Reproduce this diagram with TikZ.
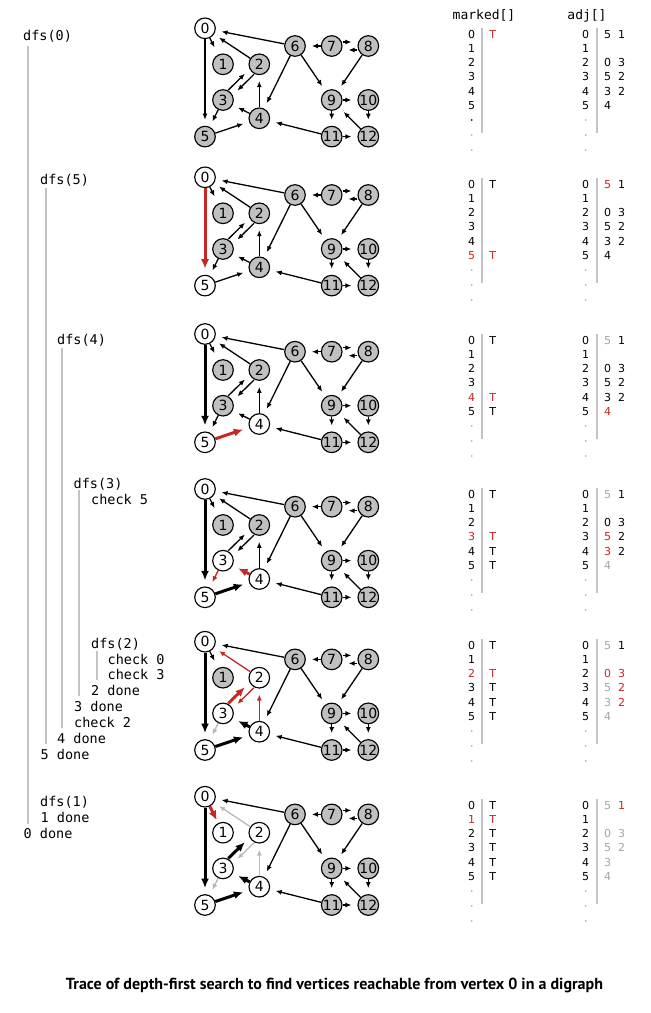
\documentclass[tikz,border=0pt]{standalone}
\usepackage{fontspec}
\setmainfont{DejaVu Sans}
\newfontfamily\trfont{DejaVu Sans Mono}
\newfontfamily\capfont{PT Sans}
\usetikzlibrary{arrows.meta}
\definecolor{dred}{RGB}{198,40,36}
\definecolor{egray}{RGB}{185,185,185}
\definecolor{vgray}{RGB}{192,192,192}
\definecolor{bgray}{RGB}{195,195,195}
\definecolor{tgray}{RGB}{165,165,165}
\tikzset{
  vtx/.style={circle, draw=black, line width=1.15pt, minimum size=20.6pt, inner sep=0pt, fill=vgray, font=\fontsize{14}{14}\selectfont},
  vw/.style={fill=white},
  nedge/.style={draw=black, line width=1.3pt, -{Latex[length=6pt,width=5pt]}, shorten >=6pt},
  treeedge/.style={draw=black, line width=3pt, -{Latex[length=9.5pt,width=8pt]}, shorten >=6pt},
  treered/.style={treeedge, draw=dred},
  thinred/.style={nedge, draw=dred},
  gedge/.style={nedge, draw=egray},
  c0/.style={}, c1/.style={}, c2/.style={}, c3/.style={}, c4/.style={}, c5/.style={}, c6/.style={},
  c7/.style={}, c8/.style={}, c9/.style={}, c10/.style={}, c11/.style={}, c12/.style={},
  e01/.style={nedge, shorten >=8pt}, e05/.style={nedge}, e20/.style={nedge}, e60/.style={nedge},
  e32/.style={nedge}, e23/.style={nedge}, e35/.style={nedge}, e42/.style={nedge}, e43/.style={nedge},
  e54/.style={nedge}, e64/.style={nedge}, e69/.style={nedge}, e76/.style={nedge}, e78/.style={nedge},
  e87/.style={nedge}, e89/.style={nedge}, e910/.style={nedge}, e911/.style={nedge}, e1012/.style={nedge},
  e114/.style={nedge}, e1112/.style={nedge}, e129/.style={nedge},
  trtxt/.style={anchor=west, inner sep=0pt, text height=9.8pt, text depth=0pt, font=\trfont\fontsize{13.5}{14}\selectfont},
  ttitle/.style={inner sep=0pt, text height=9.5pt, text depth=0pt, font=\trfont\fontsize{13}{14}\selectfont},
  trbar/.style={draw=bgray, line width=2pt},
  tnum/.style={inner sep=0pt, text height=8pt, text depth=0pt, font=\fontsize{11}{12}\selectfont},
  tdot/.style={fill=tgray, draw=none, circle, inner sep=0pt, minimum size=1.7pt},
}
\newcommand\digraph[3]{%
\begin{scope}[shift={(0,#2)}, #3]
 \node[vtx,c0] (#1-0) at (205,0) {0};
 \node[vtx,c1] (#1-1) at (223,36) {1};
 \node[vtx,c2] (#1-2) at (259.3,36) {2};
 \node[vtx,c3] (#1-3) at (223,71.7) {3};
 \node[vtx,c4] (#1-4) at (259.3,90) {4};
 \node[vtx,c5] (#1-5) at (205,108.3) {5};
 \node[vtx,c6] (#1-6) at (295,17.7) {6};
 \node[vtx,c7] (#1-7) at (331.7,17.7) {7};
 \node[vtx,c8] (#1-8) at (368.3,17.7) {8};
 \node[vtx,c9] (#1-9) at (331.7,71.7) {9};
 \node[vtx,c10] (#1-10) at (368.3,71.7) {10};
 \node[vtx,c11] (#1-11) at (331.7,108.3) {11};
 \node[vtx,c12] (#1-12) at (368.3,108.3) {12};
 \draw[e01] (#1-0) -- (#1-1);
 \draw[e05] (#1-0) -- (#1-5);
 \draw[e20] (#1-2) -- (#1-0);
 \draw[e60] (#1-6) -- (#1-0);
 \draw[e32,transform canvas={shift={(-2.4pt,2.4pt)}}] (#1-3) -- (#1-2);
 \draw[e23,transform canvas={shift={(2.4pt,-2.4pt)}}] (#1-2) -- (#1-3);
 \draw[e35] (#1-3) -- (#1-5);
 \draw[e42] (#1-4) -- (#1-2);
 \draw[e43] (#1-4) -- (#1-3);
 \draw[e54] (#1-5) -- (#1-4);
 \draw[e64] (#1-6) -- (#1-4);
 \draw[e69] (#1-6) -- (#1-9);
 \draw[e76] (#1-7) -- (#1-6);
 \draw[e78,transform canvas={shift={(0pt,4pt)}}] (#1-7) -- (#1-8);
 \draw[e87,transform canvas={shift={(0pt,-4pt)}}] (#1-8) -- (#1-7);
 \draw[e89] (#1-8) -- (#1-9);
 \draw[e910] (#1-9) -- (#1-10);
 \draw[e911] (#1-9) -- (#1-11);
 \draw[e1012] (#1-10) -- (#1-12);
 \draw[e114] (#1-11) -- (#1-4);
 \draw[e1112] (#1-11) -- (#1-12);
 \draw[e129] (#1-12) -- (#1-9);
\end{scope}}
\newcommand\tbl[3]{%
\begin{scope}[shift={(0,#2)}]
 \draw[trbar] (482.3,-6) -- (482.3,99);
 \draw[trbar] (596.7,-6) -- (596.7,99);
 \foreach \d in {86,101,116}{\node[tdot] (#1-md\d) at (471.7,\d) {}; \node[tdot] (#1-ad\d) at (585.7,\d) {};}
 \begin{scope}[y=-14.3pt]
 \foreach \k in {0,...,5}{%
   \ifnum\k=#3\relax\def\icol{dred}\else\def\icol{black}\fi
   \node[tnum,text=\icol] (#1-m\k) at (471.7,\k) {\k};
   \node[tnum] (#1-a\k) at (585.7,\k) {\k};}
 \end{scope}
\end{scope}}
\newcommand\ent[5]{\node[tnum,text=#4] (#1) at (#2,#3) {#5};}
\def\cT{492.7}
\def\cA{607.7}
\def\cB{621.7}
\begin{document}
\begin{tikzpicture}[x=1pt,y=-1pt]
\fill[white] (0,0) rectangle (651,1013);
\useasboundingbox (0,0) rectangle (651,1013);
% ---------------- graphs
\digraph{g1}{28.3}{c0/.style=vw}
\digraph{g2}{177.3}{c0/.style=vw, c5/.style=vw, e05/.style=treered}
\digraph{g3}{334}{c0/.style=vw, c5/.style=vw, c4/.style=vw, e05/.style=treeedge, e54/.style=treered}
\digraph{g4}{489}{c0/.style=vw, c5/.style=vw, c4/.style=vw, c3/.style=vw, e05/.style=treeedge, e54/.style=treeedge, e43/.style=treered, e35/.style=thinred}
\digraph{g5}{641.7}{c0/.style=vw, c5/.style=vw, c4/.style=vw, c3/.style=vw, c2/.style=vw, e05/.style=treeedge, e54/.style=treeedge, e43/.style=treeedge, e32/.style=treered, e20/.style=thinred, e23/.style=thinred, e42/.style=thinred, e35/.style=gedge}
\digraph{g6}{796.7}{c0/.style=vw, c1/.style=vw, c2/.style=vw, c3/.style=vw, c4/.style=vw, c5/.style=vw, e05/.style=treeedge, e54/.style=treeedge, e43/.style=treeedge, e32/.style=treeedge, e01/.style={treered, shorten >=3pt}, e20/.style=gedge, e23/.style=gedge, e42/.style=gedge, e35/.style=gedge}
% ---------------- table titles
\node[ttitle] (ttl-m) at (484,15) {marked[]};
\node[ttitle] (ttl-a) at (587,15) {adj[]};
% ---------------- tables
\tbl{k1}{34}{-1}
\node[tdot,fill=black] (k1-mdb) at (471.7,120) {};
\begin{scope}[shift={(0,34)},y=-14.3pt]
\ent{k1-t0}{\cT}{0}{dred}{T}
\ent{k1-a0a}{\cA}{0}{black}{5}\ent{k1-a0b}{\cB}{0}{black}{1}
\ent{k1-a2a}{\cA}{2}{black}{0}\ent{k1-a2b}{\cB}{2}{black}{3}
\ent{k1-a3a}{\cA}{3}{black}{5}\ent{k1-a3b}{\cB}{3}{black}{2}
\ent{k1-a4a}{\cA}{4}{black}{3}\ent{k1-a4b}{\cB}{4}{black}{2}
\ent{k1-a5a}{\cA}{5}{black}{4}
\end{scope}
\tbl{k2}{184}{5}
\begin{scope}[shift={(0,184)},y=-14.3pt]
\ent{k2-t0}{\cT}{0}{black}{T}\ent{k2-t5}{\cT}{5}{dred}{T}
\ent{k2-a0a}{\cA}{0}{dred}{5}\ent{k2-a0b}{\cB}{0}{black}{1}
\ent{k2-a2a}{\cA}{2}{black}{0}\ent{k2-a2b}{\cB}{2}{black}{3}
\ent{k2-a3a}{\cA}{3}{black}{5}\ent{k2-a3b}{\cB}{3}{black}{2}
\ent{k2-a4a}{\cA}{4}{black}{3}\ent{k2-a4b}{\cB}{4}{black}{2}
\ent{k2-a5a}{\cA}{5}{black}{4}
\end{scope}
\tbl{k3}{340}{4}
\begin{scope}[shift={(0,340)},y=-14.3pt]
\ent{k3-t0}{\cT}{0}{black}{T}\ent{k3-t4}{\cT}{4}{dred}{T}\ent{k3-t5}{\cT}{5}{black}{T}
\ent{k3-a0a}{\cA}{0}{tgray}{5}\ent{k3-a0b}{\cB}{0}{black}{1}
\ent{k3-a2a}{\cA}{2}{black}{0}\ent{k3-a2b}{\cB}{2}{black}{3}
\ent{k3-a3a}{\cA}{3}{black}{5}\ent{k3-a3b}{\cB}{3}{black}{2}
\ent{k3-a4a}{\cA}{4}{black}{3}\ent{k3-a4b}{\cB}{4}{black}{2}
\ent{k3-a5a}{\cA}{5}{dred}{4}
\end{scope}
\tbl{k4}{494}{3}
\begin{scope}[shift={(0,494)},y=-14.3pt]
\ent{k4-t0}{\cT}{0}{black}{T}\ent{k4-t3}{\cT}{3}{dred}{T}\ent{k4-t4}{\cT}{4}{black}{T}\ent{k4-t5}{\cT}{5}{black}{T}
\ent{k4-a0a}{\cA}{0}{tgray}{5}\ent{k4-a0b}{\cB}{0}{black}{1}
\ent{k4-a2a}{\cA}{2}{black}{0}\ent{k4-a2b}{\cB}{2}{black}{3}
\ent{k4-a3a}{\cA}{3}{dred}{5}\ent{k4-a3b}{\cB}{3}{black}{2}
\ent{k4-a4a}{\cA}{4}{dred}{3}\ent{k4-a4b}{\cB}{4}{black}{2}
\ent{k4-a5a}{\cA}{5}{tgray}{4}
\end{scope}
\tbl{k5}{645}{2}
\begin{scope}[shift={(0,645)},y=-14.3pt]
\ent{k5-t0}{\cT}{0}{black}{T}\ent{k5-t2}{\cT}{2}{dred}{T}\ent{k5-t3}{\cT}{3}{black}{T}\ent{k5-t4}{\cT}{4}{black}{T}\ent{k5-t5}{\cT}{5}{black}{T}
\ent{k5-a0a}{\cA}{0}{tgray}{5}\ent{k5-a0b}{\cB}{0}{black}{1}
\ent{k5-a2a}{\cA}{2}{dred}{0}\ent{k5-a2b}{\cB}{2}{dred}{3}
\ent{k5-a3a}{\cA}{3}{tgray}{5}\ent{k5-a3b}{\cB}{3}{dred}{2}
\ent{k5-a4a}{\cA}{4}{tgray}{3}\ent{k5-a4b}{\cB}{4}{dred}{2}
\ent{k5-a5a}{\cA}{5}{tgray}{4}
\end{scope}
\tbl{k6}{805}{1}
\begin{scope}[shift={(0,805)},y=-14.3pt]
\ent{k6-t0}{\cT}{0}{black}{T}\ent{k6-t1}{\cT}{1}{dred}{T}\ent{k6-t2}{\cT}{2}{black}{T}\ent{k6-t3}{\cT}{3}{black}{T}\ent{k6-t4}{\cT}{4}{black}{T}\ent{k6-t5}{\cT}{5}{black}{T}
\ent{k6-a0a}{\cA}{0}{tgray}{5}\ent{k6-a0b}{\cB}{0}{dred}{1}
\ent{k6-a2a}{\cA}{2}{tgray}{0}\ent{k6-a2b}{\cB}{2}{tgray}{3}
\ent{k6-a3a}{\cA}{3}{tgray}{5}\ent{k6-a3b}{\cB}{3}{tgray}{2}
\ent{k6-a4a}{\cA}{4}{tgray}{3}
\ent{k6-a5a}{\cA}{5}{tgray}{4}
\end{scope}
% ---------------- trace
\draw[trbar] (27.7,46) -- (27.7,824);
\draw[trbar] (45.5,188) -- (45.5,744);
\draw[trbar] (62.2,348) -- (62.2,728);
\draw[trbar] (78.8,490) -- (78.8,696);
\draw[trbar] (96.7,651) -- (96.7,680);
\node[trtxt] (tr-d0) at (23,36) {dfs(0)};
\node[trtxt] (tr-d5) at (40,179.3) {dfs(5)};
\node[trtxt] (tr-d4) at (57,339.3) {dfs(4)};
\node[trtxt] (tr-d3) at (73.5,483.3) {dfs(3)};
\node[trtxt] (tr-c5) at (91,499.3) {check 5};
\node[trtxt] (tr-d2) at (91,643.3) {dfs(2)};
\node[trtxt] (tr-c0) at (107.5,659.3) {check 0};
\node[trtxt] (tr-c3) at (107.5,674.3) {check 3};
\node[trtxt] (tr-x2) at (91,690.3) {2 done};
\node[trtxt] (tr-x3) at (74,706.3) {3 done};
\node[trtxt] (tr-c2) at (74,722.3) {check 2};
\node[trtxt] (tr-x4) at (57,738.3) {4 done};
\node[trtxt] (tr-x5) at (40.5,754.3) {5 done};
\node[trtxt] (tr-d1) at (40,802) {dfs(1)};
\node[trtxt] (tr-x1) at (40.5,818) {1 done};
\node[trtxt] (tr-x0) at (23.5,834) {0 done};
% ---------------- caption
\node[font=\capfont\bfseries, inner sep=0pt] (cap) at (334.5,985) {\resizebox{537pt}{!}{Trace of depth-first search to find vertices reachable from vertex 0 in a digraph}};
\end{tikzpicture}
\end{document}
